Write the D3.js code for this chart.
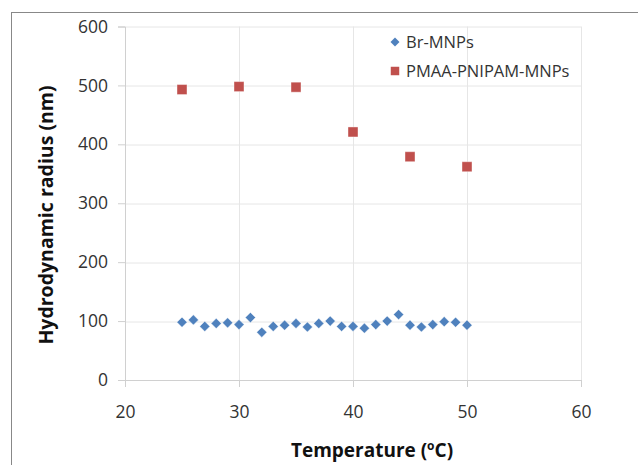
<!DOCTYPE html>
<html>
<head>
<meta charset="utf-8">
<script src="https://cdn.jsdelivr.net/npm/d3@7"></script>
<style>
  body { margin: 0; background: #fff; }
  text { font-family: "Open Sans", "Liberation Sans", sans-serif; }
</style>
</head>
<body>
<div id="chart"></div>
<script>
// Br-MNPs, measured every degree from 25 to 50 C
var brTemp = [25, 26, 27, 28, 29, 30, 31, 32, 33, 34, 35, 36, 37, 38, 39, 40, 41, 42, 43, 44, 45, 46, 47, 48, 49, 50];
var brRadius = [98, 102, 91, 96, 97, 94, 106, 81, 91, 93, 96, 90, 96, 100, 91, 91, 88, 94, 100, 111, 93, 90, 94, 99, 98, 93];

// PMAA-PNIPAM-MNPs, every 5 degrees
var pmaaTemp = [25, 30, 35, 40, 45, 50];
var pmaaRadius = [493, 498, 497, 421, 379, 362];

var xTicks = [20, 30, 40, 50, 60];
var yTicks = [0, 100, 200, 300, 400, 500, 600];

var seriesNames = ["Br-MNPs", "PMAA-PNIPAM-MNPs"];
var colors = ["#4f81bd", "#c0504d"];

var W = 638, H = 465;
var margin = {top: 26.5, right: 57, bottom: 85, left: 125};
var width = W - margin.left - margin.right,
    height = H - margin.top - margin.bottom;

var svg = d3.select("#chart")
  .append("svg")
    .attr("width", W)
    .attr("height", H);

// outer chart border (runs off the right and bottom edges)
svg.append("rect")
  .attr("x", 11.5).attr("y", 12.5)
  .attr("width", W + 20).attr("height", H + 20)
  .attr("fill", "none")
  .attr("stroke", "#888")
  .attr("stroke-width", 1);

var g = svg.append("g")
  .attr("transform", `translate(${margin.left},${margin.top})`);

var x = d3.scaleLinear().domain([20, 60]).range([0, width]);
var y = d3.scaleLinear().domain([0, 600]).range([height, 0]);

// gridlines
g.append("g")
  .selectAll("line")
  .data(yTicks.filter(d => d > 0))
  .join("line")
    .attr("x1", 0).attr("x2", width)
    .attr("y1", d => Math.round(y(d)) + 0.5)
    .attr("y2", d => Math.round(y(d)) + 0.5)
    .attr("stroke", "#e6e6e6");

g.append("g")
  .selectAll("line")
  .data(xTicks.filter(d => d > 20))
  .join("line")
    .attr("x1", d => Math.round(x(d)) + 0.5)
    .attr("x2", d => Math.round(x(d)) + 0.5)
    .attr("y1", 0).attr("y2", height)
    .attr("stroke", "#e6e6e6");

// axes
var xAxis = g.append("g")
  .attr("transform", `translate(0,${height})`)
  .call(d3.axisBottom(x).tickValues(xTicks).tickSize(7).tickPadding(19));

var yAxis = g.append("g")
  .call(d3.axisLeft(y).tickValues(yTicks).tickSize(7).tickPadding(10));

[xAxis, yAxis].forEach(function(a) {
  a.select(".domain").attr("stroke", "#d0d0d0");
  a.selectAll(".tick line").attr("stroke", "#d0d0d0");
  a.selectAll("text")
    .style("font-size", "17.5px")
    .attr("fill", "#333");
});

// points
var diamond = d3.symbol().type(d3.symbolSquare).size(52);
var square = d3.symbol().type(d3.symbolSquare).size(100);

g.append("g")
  .selectAll("path")
  .data(brTemp)
  .join("path")
    .attr("d", diamond)
    .attr("transform", (d, i) => `translate(${x(d)},${y(brRadius[i])}) rotate(45)`)
    .attr("fill", colors[0])
    .attr("stroke", "#fff")
    .attr("stroke-opacity", 0.5)
    .attr("stroke-width", 0.8);

g.append("g")
  .selectAll("path")
  .data(pmaaTemp)
  .join("path")
    .attr("d", square)
    .attr("transform", (d, i) => `translate(${x(d)},${y(pmaaRadius[i])})`)
    .attr("fill", colors[1])
    .attr("stroke", "#fff")
    .attr("stroke-opacity", 0.5)
    .attr("stroke-width", 0.8);

// legend
var legend = svg.append("g").attr("transform", "translate(395,42)");
var items = legend.selectAll("g")
  .data(seriesNames)
  .join("g")
    .attr("transform", (d, i) => `translate(0,${i * 29})`);

items.append("path")
  .attr("d", (d, i) => d3.symbol().type(d3.symbolSquare).size(i === 0 ? 40 : 72)())
  .attr("transform", (d, i) => i === 0 ? "rotate(45)" : null)
  .attr("fill", (d, i) => colors[i]);

items.append("text")
  .attr("x", 11)
  .attr("dy", "0.35em")
  .style("font-size", "16.5px")
  .attr("fill", "#333")
  .text(d => d);

// axis titles
svg.append("text")
  .attr("transform", "translate(53,215) rotate(-90)")
  .attr("text-anchor", "middle")
  .style("font-size", "19.5px")
  .style("font-weight", "bold")
  .attr("fill", "#111")
  .text("Hydrodynamic radius (nm)");

var xt = svg.append("text")
  .attr("x", 372)
  .attr("y", 457)
  .attr("text-anchor", "middle")
  .style("font-size", "19px")
  .style("font-weight", "bold")
  .attr("fill", "#111");
xt.append("tspan").text("Temperature (");
xt.append("tspan").attr("dy", -7).style("font-size", "12px").text("o");
xt.append("tspan").attr("dy", 7).text("C)");
</script>
</body>
</html>
